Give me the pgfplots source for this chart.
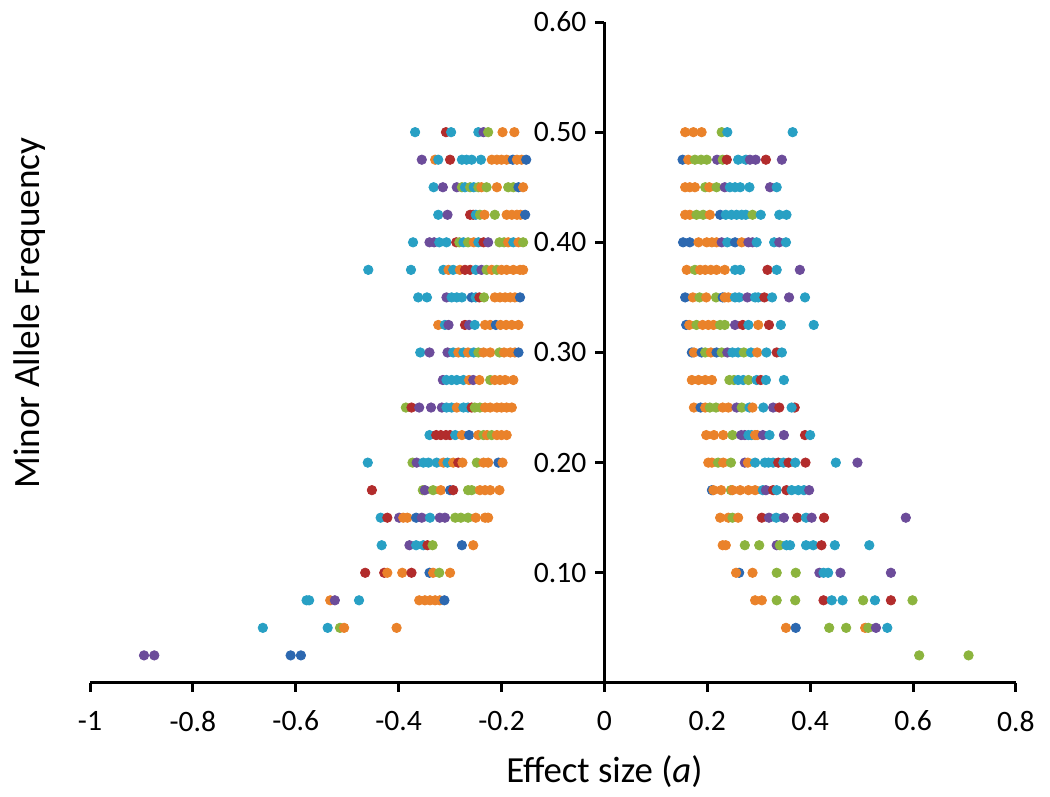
\documentclass[border=0pt]{standalone}
\usepackage{fontspec}
\setmainfont{Carlito}
\usepackage{pgfplots}
\usepackage{pgfplotstable}
\pgfplotsset{compat=1.18}
\definecolor{cT}{RGB}{40,160,196}
\definecolor{cO}{RGB}{234,130,42}
\definecolor{cG}{RGB}{140,180,62}
\definecolor{cP}{RGB}{108,76,154}
\definecolor{cR}{RGB}{178,44,44}
\definecolor{cB}{RGB}{44,104,176}
\pgfplotstableread{
x y c
-0.368 0.500 T
-0.308 0.500 R
-0.298 0.500 T
-0.245 0.500 T
-0.235 0.500 P
-0.226 0.500 G
-0.198 0.500 O
-0.175 0.500 O
-0.355 0.475 P
-0.329 0.475 O
-0.323 0.475 T
-0.300 0.475 R
-0.277 0.475 T
-0.268 0.475 T
-0.258 0.475 T
-0.240 0.475 T
-0.219 0.475 O
-0.209 0.475 O
-0.200 0.475 O
-0.190 0.475 O
-0.178 0.475 B
-0.170 0.475 O
-0.161 0.475 O
-0.152 0.475 B
-0.332 0.450 T
-0.314 0.450 P
-0.287 0.450 P
-0.277 0.450 G
-0.271 0.450 T
-0.261 0.450 G
-0.254 0.450 T
-0.245 0.450 G
-0.239 0.450 O
-0.229 0.450 G
-0.209 0.450 O
-0.187 0.450 G
-0.177 0.450 G
-0.167 0.450 B
-0.158 0.450 O
-0.323 0.425 T
-0.305 0.425 P
-0.261 0.425 R
-0.255 0.425 R
-0.250 0.425 T
-0.242 0.425 G
-0.233 0.425 O
-0.213 0.425 G
-0.190 0.425 O
-0.180 0.425 O
-0.170 0.425 O
-0.163 0.425 O
-0.154 0.425 B
-0.372 0.400 T
-0.340 0.400 P
-0.331 0.400 P
-0.321 0.400 T
-0.307 0.400 T
-0.288 0.400 R
-0.282 0.400 G
-0.274 0.400 T
-0.265 0.400 G
-0.254 0.400 O
-0.245 0.400 T
-0.235 0.400 R
-0.226 0.400 P
-0.204 0.400 G
-0.195 0.400 G
-0.187 0.400 O
-0.177 0.400 T
-0.167 0.400 O
-0.158 0.400 G
-0.459 0.375 T
-0.376 0.375 T
-0.313 0.375 T
-0.303 0.375 O
-0.294 0.375 T
-0.281 0.375 O
-0.271 0.375 R
-0.261 0.375 R
-0.250 0.375 T
-0.239 0.375 P
-0.229 0.375 G
-0.219 0.375 O
-0.209 0.375 G
-0.200 0.375 O
-0.190 0.375 O
-0.177 0.375 O
-0.164 0.375 O
-0.158 0.375 O
-0.362 0.350 T
-0.345 0.350 T
-0.307 0.350 P
-0.297 0.350 T
-0.287 0.350 T
-0.277 0.350 T
-0.258 0.350 B
-0.250 0.350 T
-0.243 0.350 R
-0.234 0.350 G
-0.213 0.350 O
-0.203 0.350 O
-0.193 0.350 O
-0.183 0.350 O
-0.174 0.350 O
-0.164 0.350 B
-0.323 0.325 O
-0.310 0.325 T
-0.303 0.325 P
-0.271 0.325 R
-0.263 0.325 P
-0.252 0.325 T
-0.232 0.325 O
-0.222 0.325 O
-0.211 0.325 B
-0.202 0.325 O
-0.191 0.325 O
-0.180 0.325 O
-0.167 0.325 O
-0.358 0.300 T
-0.340 0.300 P
-0.305 0.300 P
-0.294 0.300 T
-0.284 0.300 O
-0.274 0.300 T
-0.265 0.300 O
-0.254 0.300 T
-0.245 0.300 G
-0.235 0.300 O
-0.222 0.300 O
-0.204 0.300 G
-0.195 0.300 O
-0.183 0.300 O
-0.174 0.300 O
-0.167 0.300 B
-0.314 0.275 P
-0.307 0.275 T
-0.297 0.275 T
-0.287 0.275 T
-0.274 0.275 T
-0.263 0.275 O
-0.255 0.275 P
-0.243 0.275 O
-0.222 0.275 G
-0.213 0.275 O
-0.203 0.275 O
-0.193 0.275 O
-0.177 0.275 O
-0.386 0.250 G
-0.375 0.250 R
-0.360 0.250 P
-0.337 0.250 P
-0.316 0.250 P
-0.307 0.250 T
-0.297 0.250 T
-0.287 0.250 O
-0.274 0.250 T
-0.265 0.250 T
-0.258 0.250 R
-0.252 0.250 G
-0.242 0.250 G
-0.232 0.250 O
-0.222 0.250 O
-0.209 0.250 O
-0.200 0.250 O
-0.190 0.250 O
-0.180 0.250 O
-0.340 0.225 T
-0.327 0.225 R
-0.318 0.225 R
-0.308 0.225 R
-0.300 0.225 R
-0.290 0.225 T
-0.277 0.225 O
-0.263 0.225 B
-0.245 0.225 O
-0.235 0.225 G
-0.228 0.225 O
-0.219 0.225 G
-0.209 0.225 O
-0.200 0.225 O
-0.190 0.225 O
-0.460 0.200 T
-0.373 0.200 G
-0.365 0.200 P
-0.352 0.200 T
-0.342 0.200 T
-0.326 0.200 T
-0.313 0.200 O
-0.305 0.200 T
-0.294 0.200 O
-0.284 0.200 R
-0.276 0.200 O
-0.248 0.200 G
-0.235 0.200 O
-0.226 0.200 O
-0.206 0.200 B
-0.198 0.200 O
-0.452 0.175 R
-0.353 0.175 G
-0.349 0.175 P
-0.333 0.175 G
-0.318 0.175 O
-0.300 0.175 B
-0.294 0.175 R
-0.265 0.175 G
-0.258 0.175 G
-0.242 0.175 O
-0.232 0.175 O
-0.222 0.175 O
-0.204 0.175 O
-0.435 0.150 T
-0.422 0.150 R
-0.399 0.150 P
-0.391 0.150 O
-0.383 0.150 O
-0.366 0.150 B
-0.355 0.150 P
-0.339 0.150 T
-0.320 0.150 P
-0.310 0.150 P
-0.290 0.150 G
-0.279 0.150 G
-0.265 0.150 G
-0.250 0.150 O
-0.232 0.150 O
-0.226 0.150 O
-0.433 0.125 T
-0.379 0.125 P
-0.366 0.125 T
-0.352 0.125 T
-0.344 0.125 R
-0.334 0.125 G
-0.277 0.125 B
-0.255 0.125 O
-0.465 0.100 R
-0.428 0.100 R
-0.422 0.100 O
-0.393 0.100 O
-0.375 0.100 R
-0.340 0.100 B
-0.333 0.100 O
-0.321 0.100 G
-0.300 0.100 O
-0.579 0.075 T
-0.574 0.075 T
-0.533 0.075 O
-0.524 0.075 P
-0.477 0.075 T
-0.360 0.075 O
-0.349 0.075 O
-0.339 0.075 O
-0.329 0.075 O
-0.320 0.075 O
-0.311 0.075 B
-0.664 0.050 T
-0.538 0.050 T
-0.514 0.050 G
-0.506 0.050 O
-0.404 0.050 O
-0.895 0.025 P
-0.875 0.025 P
-0.610 0.025 B
-0.590 0.025 B
0.157 0.500 O
0.173 0.500 O
0.189 0.500 O
0.228 0.500 G
0.239 0.500 T
0.366 0.500 T
0.152 0.475 B
0.163 0.475 O
0.176 0.475 G
0.188 0.475 G
0.199 0.475 G
0.219 0.475 P
0.230 0.475 G
0.238 0.475 R
0.260 0.475 T
0.275 0.475 T
0.283 0.475 P
0.294 0.475 P
0.314 0.475 R
0.345 0.475 P
0.157 0.450 O
0.166 0.450 O
0.176 0.450 O
0.196 0.450 G
0.204 0.450 O
0.218 0.450 G
0.234 0.450 P
0.244 0.450 T
0.254 0.450 T
0.264 0.450 T
0.282 0.450 T
0.322 0.450 P
0.335 0.450 T
0.157 0.425 O
0.166 0.425 O
0.179 0.425 G
0.192 0.425 G
0.205 0.425 O
0.225 0.425 B
0.236 0.425 T
0.247 0.425 T
0.257 0.425 T
0.267 0.425 T
0.275 0.425 T
0.288 0.425 G
0.304 0.425 T
0.340 0.425 T
0.354 0.425 T
0.153 0.400 B
0.166 0.400 B
0.183 0.400 O
0.199 0.400 O
0.209 0.400 O
0.218 0.400 O
0.228 0.400 P
0.239 0.400 T
0.254 0.400 B
0.267 0.400 O
0.280 0.400 P
0.288 0.400 P
0.296 0.400 T
0.330 0.400 T
0.340 0.400 P
0.353 0.400 T
0.160 0.375 O
0.176 0.375 G
0.186 0.375 O
0.196 0.375 O
0.207 0.375 O
0.218 0.375 O
0.234 0.375 O
0.254 0.375 T
0.264 0.375 T
0.317 0.375 R
0.335 0.375 T
0.380 0.375 P
0.157 0.350 B
0.172 0.350 O
0.185 0.350 G
0.198 0.350 O
0.217 0.350 G
0.230 0.350 B
0.234 0.350 O
0.241 0.350 O
0.254 0.350 T
0.262 0.350 T
0.278 0.350 P
0.293 0.350 T
0.299 0.350 T
0.311 0.350 R
0.326 0.350 T
0.359 0.350 P
0.390 0.350 T
0.159 0.325 B
0.165 0.325 O
0.179 0.325 G
0.191 0.325 O
0.202 0.325 O
0.212 0.325 O
0.225 0.325 G
0.234 0.325 G
0.254 0.325 P
0.269 0.325 R
0.280 0.325 T
0.299 0.325 O
0.320 0.325 R
0.343 0.325 T
0.407 0.325 T
0.170 0.300 B
0.174 0.300 O
0.189 0.300 B
0.196 0.300 G
0.207 0.300 O
0.218 0.300 B
0.228 0.300 G
0.239 0.300 P
0.249 0.300 T
0.260 0.300 T
0.271 0.300 G
0.285 0.300 T
0.297 0.300 O
0.315 0.300 T
0.335 0.300 R
0.345 0.300 T
0.170 0.275 O
0.183 0.275 O
0.196 0.275 O
0.209 0.275 O
0.243 0.275 G
0.252 0.275 G
0.260 0.275 T
0.270 0.275 T
0.280 0.275 G
0.296 0.275 T
0.304 0.275 R
0.314 0.275 T
0.349 0.275 T
0.174 0.250 O
0.187 0.250 B
0.196 0.250 O
0.205 0.250 G
0.217 0.250 G
0.230 0.250 O
0.241 0.250 O
0.257 0.250 P
0.267 0.250 G
0.282 0.250 T
0.288 0.250 O
0.309 0.250 T
0.328 0.250 P
0.340 0.250 R
0.370 0.250 R
0.364 0.250 T
0.198 0.225 O
0.213 0.225 O
0.231 0.225 O
0.249 0.225 G
0.266 0.225 P
0.273 0.225 P
0.280 0.225 T
0.286 0.225 T
0.293 0.225 O
0.297 0.225 O
0.308 0.225 P
0.321 0.225 T
0.349 0.225 P
0.390 0.225 R
0.400 0.225 T
0.202 0.200 O
0.209 0.200 O
0.221 0.200 G
0.231 0.200 O
0.246 0.200 G
0.273 0.200 P
0.279 0.200 O
0.293 0.200 T
0.312 0.200 T
0.319 0.200 T
0.328 0.200 T
0.338 0.200 R
0.348 0.200 T
0.358 0.200 R
0.371 0.200 T
0.391 0.200 R
0.450 0.200 T
0.492 0.200 P
0.209 0.175 B
0.212 0.175 O
0.227 0.175 O
0.246 0.175 G
0.249 0.175 O
0.264 0.175 O
0.280 0.175 O
0.293 0.175 O
0.308 0.175 T
0.314 0.175 P
0.328 0.175 R
0.335 0.175 T
0.354 0.175 R
0.364 0.175 T
0.377 0.175 T
0.388 0.175 T
0.398 0.175 P
0.225 0.150 O
0.241 0.150 O
0.249 0.150 G
0.260 0.150 O
0.306 0.150 R
0.320 0.150 P
0.334 0.150 T
0.349 0.150 P
0.375 0.150 R
0.392 0.150 T
0.403 0.150 P
0.427 0.150 R
0.586 0.150 P
0.230 0.125 O
0.236 0.125 O
0.273 0.125 G
0.301 0.125 G
0.335 0.125 P
0.341 0.125 G
0.354 0.125 T
0.361 0.125 T
0.392 0.125 T
0.406 0.125 T
0.422 0.125 R
0.448 0.125 T
0.515 0.125 T
0.262 0.100 B
0.256 0.100 O
0.288 0.100 O
0.335 0.100 G
0.372 0.100 G
0.418 0.100 P
0.426 0.100 T
0.435 0.100 T
0.459 0.100 P
0.557 0.100 P
0.293 0.075 O
0.306 0.075 O
0.335 0.075 G
0.371 0.075 G
0.426 0.075 R
0.442 0.075 T
0.463 0.075 T
0.503 0.075 G
0.526 0.075 T
0.557 0.075 R
0.599 0.075 G
0.353 0.050 O
0.372 0.050 B
0.437 0.050 G
0.470 0.050 G
0.507 0.050 O
0.513 0.050 G
0.528 0.050 P
0.550 0.050 T
0.612 0.025 G
0.708 0.025 G
}\data
\begin{document}
\begin{tikzpicture}
\begin{axis}[
  scale only axis, width=463pt, height=330.5pt,
  xmin=-1, xmax=0.8, ymin=0, ymax=0.6,
  axis lines=middle,
  axis line style={-, line width=1.5pt, black},
  tick align=outside,
  major tick length=4.5pt,
  tick style={line width=1.5pt, black},
  hide obscured x ticks=false,
  hide obscured y ticks=false,
  xtick={-1,-0.8,-0.6,-0.4,-0.2,0,0.2,0.4,0.6,0.8},
  xticklabels={-1,-0.8,-0.6,-0.4,-0.2,0,0.2,0.4,0.6,0.8},
  ytick={0.1,0.2,0.3,0.4,0.5,0.6},
  yticklabels={0.10,0.20,0.30,0.40,0.50,0.60},
  ticklabel style={font=\fontsize{14.8}{17}\selectfont},
  xticklabel style={yshift=-6pt},
  yticklabel style={xshift=-1pt},
  clip=false,
]
\addplot[scatter, only marks, mark=*, mark size=2.35pt,
  scatter src=explicit symbolic,
  scatter/classes={
    T={mark=*,draw=cT,fill=cT},
    O={mark=*,draw=cO,fill=cO},
    G={mark=*,draw=cG,fill=cG},
    P={mark=*,draw=cP,fill=cP},
    R={mark=*,draw=cR,fill=cR},
    B={mark=*,draw=cB,fill=cB}}]
  table[x=x, y=y, meta=c]{\data};
\node[rotate=90, font=\fontsize{18.6}{21}\selectfont] at (axis cs:-1.1166,0.3358) {Minor Allele Frequency};
\node[font=\fontsize{18.4}{21}\selectfont] at (axis cs:0,-0.0808) {Effect size (\textit{a})};
\coordinate (bbSW) at (axis cs:-1.175,-0.1035);
\coordinate (bbNE) at (axis cs:0.8663,0.6200);
\end{axis}
\pgfresetboundingbox
\path[use as bounding box] (bbSW) rectangle (bbNE);
\end{tikzpicture}
\end{document}
